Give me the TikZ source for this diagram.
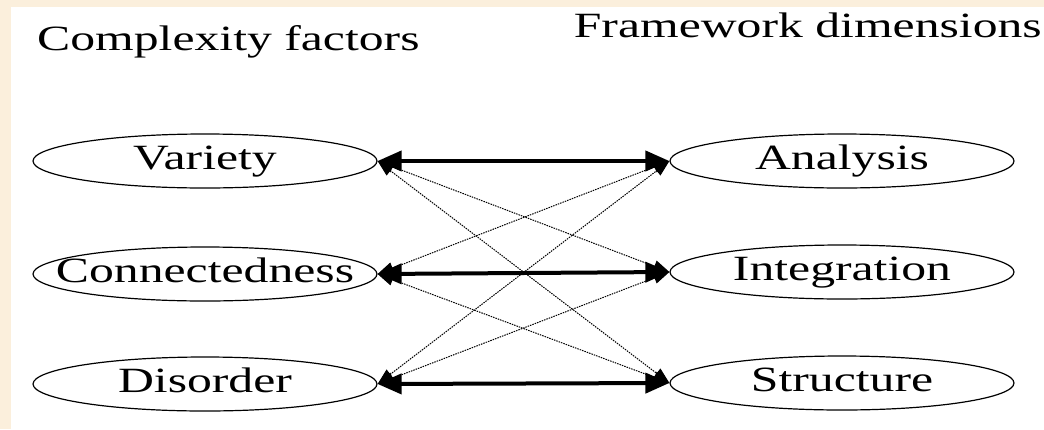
\documentclass[tikz,border=0pt]{standalone}
\usepackage{fontspec}
\setmainfont{Liberation Serif}[FakeStretch=1.4]
\usetikzlibrary{shapes.geometric, arrows.meta}
\definecolor{paper}{RGB}{251,239,220}

\begin{document}
\begin{tikzpicture}[x=1pt, y=-1pt,
  factor/.style={draw, line width=1.2pt, ellipse, minimum width=344pt, minimum height=54pt,
    inner xsep=-30pt, inner ysep=0pt, text height=24pt, text depth=8pt},
  strong/.style={line width=4pt, {Triangle[length=24pt,width=20pt]}-{Triangle[length=24pt,width=20pt]}},
  weak/.style={line width=1pt, dash pattern=on 1.5pt off 1pt, {Triangle[length=16pt,width=12pt]}-{Triangle[length=16pt,width=12pt]}},
  font=\fontsize{35.5}{40}\selectfont]
\useasboundingbox (0,0) rectangle (1044,429);
\fill[paper] (0,0) rectangle (1044,429);
\fill[white] (11,7) rectangle (1044,429);
% headings
\node[anchor=base west, inner sep=0pt] (hleft) at (37,50) {Complexity factors};
\node[anchor=base east, inner sep=0pt] (hright) at (1042,37) {Framework dimensions};
% left column
\node[factor] (variety) at (205,161) {Variety};
\node[factor] (connect) at (205,274) {Connectedness};
\node[factor] (disorder) at (205,384) {Disorder};
% right column
\node[factor] (analysis) at (842,161) {Analysis};
\node[factor] (integration) at (842,272) {Integration};
\node[factor] (structure) at (842,383) {Structure};
% main links
\draw[strong] (variety.east) -- (analysis.west);
\draw[strong] (connect.east) -- (integration.west);
\draw[strong] (disorder.east) -- (structure.west);
% cross links
\draw[weak] (variety.east) -- (integration.west);
\draw[weak] (variety.east) -- (structure.west);
\draw[weak] (connect.east) -- (analysis.west);
\draw[weak] (connect.east) -- (structure.west);
\draw[weak] (disorder.east) -- (analysis.west);
\draw[weak] (disorder.east) -- (integration.west);
\end{tikzpicture}
\end{document}
